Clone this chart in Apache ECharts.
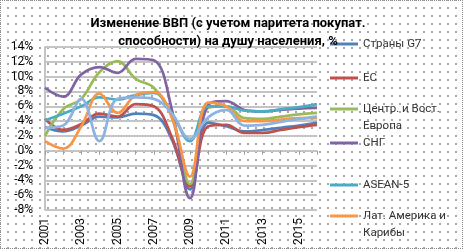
<!DOCTYPE html>
<html><head><meta charset="utf-8">
<script src="https://cdn.jsdelivr.net/npm/echarts@6/dist/echarts.min.js"></script>
<style>
html,body{margin:0;padding:0;background:#fff;}
#c{width:463px;height:249px;box-sizing:border-box;border:1px dotted #8a8a8a;
background-image:radial-gradient(circle,#a8a8a8 0.9px,rgba(255,255,255,0) 1.2px);
background-size:8px 8px;background-position:3px 3px;}
</style></head><body>
<div id="c"></div>
<script>
const years = ['2001','2002','2003','2004','2005','2006','2007','2008','2009','2010','2011','2012','2013','2014','2015','2016'];
const yTicks = [-8,-6,-4,-2,0,2,4,6,8,10,12,14];
const g7    = [3.2, 2.6, 3.4, 4.6, 4.5, 5.0, 4.8, 1.5, -5.2, 3.8, 3.3, 2.6, 2.8, 3.1, 3.4, 3.8];
const eu    = [4.3, 2.8, 3.6, 5.0, 4.6, 6.3, 6.0, 1.8, -4.8, 3.3, 3.5, 2.4, 2.4, 2.8, 3.2, 3.5];
const cee   = [2.0, 5.6, 7.0, 10.6, 12.1, 9.7, 8.5, 4.5, -4.5, 5.8, 6.0, 4.4, 4.3, 4.6, 4.9, 5.1];
const cis   = [8.5, 7.3, 10.3, 11.3, 10.5, 12.4, 12.2, 5.5, -6.4, 6.2, 6.7, 5.5, 5.3, 5.5, 5.7, 5.8];
const asean = [4.1, 5.0, 6.0, 7.2, 6.9, 7.5, 7.8, 5.0, 1.3, 6.0, 6.0, 5.4, 5.3, 5.6, 5.9, 6.3];
const latam = [1.3, 0.3, 3.3, 7.7, 5.1, 7.5, 7.9, 4.5, -3.5, 6.5, 6.0, 4.0, 4.0, 4.2, 4.4, 4.4];
const other = [3.1, 3.4, 7.0, 1.3, 7.0, 7.2, 7.0, 5.0, 1.6, 4.5, 5.5, 3.4, 3.5, 3.9, 4.3, 4.6];
const names = ['Страны G7','ЕС','Центр. и Вост. Европа','СНГ','ASEAN-5','Лат. Америка и Карибы','Другие'];
const legendFirst = ['Страны G7','ЕС','Центр. и Вост.','СНГ','ASEAN-5','Лат. Америка и'];
const legendSecond = ['', '', 'Европа', '', '', 'Карибы'];
const colors = ['#4F81BD','#C0504D','#9BBB59','#8064A2','#4BACC6','#F79646','#8DB3E2'];
const dataSets = [g7, eu, cee, cis, asean, latam, other];
const legendY = [43, 77, 108, 142, 184, 215];

const FONT = 'Roboto';
const chart = echarts.init(document.getElementById('c'), null, {renderer:'canvas'});
const legends = legendFirst.map((t,i)=>({
  data:[names[i]], orient:'vertical', left:329, top:legendY[i]-7, padding:0,
  icon:'rect', itemWidth:28, itemHeight:3, itemGap:0,
  formatter:()=>t,
  textStyle:{fontFamily:FONT,fontSize:11.5,color:'#333',lineHeight:14}
}));
const graphics = [{
  type:'text', x:227, y:14, z:100,
  style:{text:'Изменение ВВП (с учетом паритета покупат.\nспособности) на душу населения, %',
    textAlign:'center', fontFamily:FONT, fontWeight:'bold', fontSize:13, lineHeight:18, fill:'#000'}
}];
legendSecond.forEach((t,i)=>{ if(t) graphics.push({type:'text', x:362, y:legendY[i]+11,
  style:{text:t, fontFamily:FONT, fontSize:11.5, fill:'#333'}}); });

chart.setOption({
  animation:false,
  backgroundColor:'transparent',
  color:colors,
  grid:{left:44, right:145, top:46, bottom:13, containLabel:false},
  legend:legends,
  graphic:graphics,
  xAxis:{type:'category', data:years, boundaryGap:false, z:10,
    axisLine:{show:false},
    axisTick:{show:true, interval:0, length:4, lineStyle:{color:'#a0a0a0'}},
    axisLabel:{interval:1, rotate:90, margin:8, fontFamily:FONT, fontSize:12, color:'#000'},
    splitLine:{show:false}},
  yAxis:{type:'value', min:-8, max:14, interval:2,
    axisLine:{show:true, lineStyle:{color:'#c4c4c4', width:2}},
    axisTick:{show:false},
    axisLabel:{margin:12, fontFamily:FONT, fontSize:12, color:'#000', formatter:v=>v+'%'},
    splitLine:{show:true, lineStyle:{color:'#c4c4c4', width:2}}},
  series:dataSets.map((d,i)=>({
    name:names[i], type:'line', data:d, smooth:0.4, symbol:'none',
    lineStyle:{width:2.75, color:colors[i]}, itemStyle:{color:colors[i]}
  }))
});
</script></body></html>
